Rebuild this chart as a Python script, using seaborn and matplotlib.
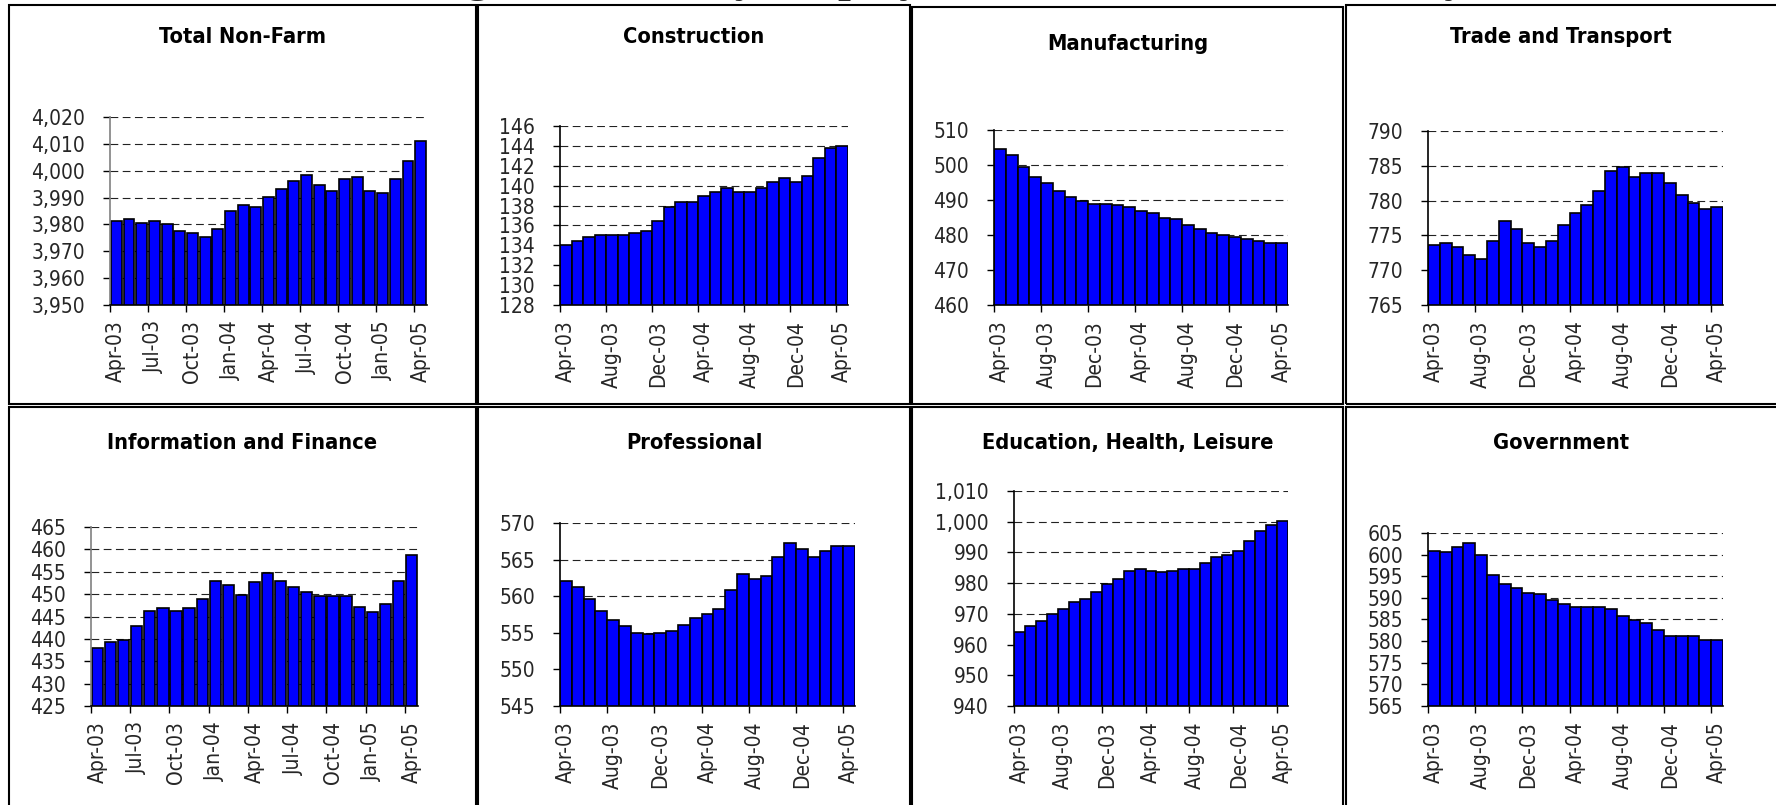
import matplotlib
matplotlib.use('Agg')
import numpy as np
import pandas as pd
import matplotlib.pyplot as plt
import seaborn as sns
from matplotlib.patches import Rectangle
from matplotlib.ticker import FuncFormatter

sns.set_theme(style='white')
plt.rcParams['font.family'] = ['DejaVu Sans']
plt.rcParams['font.stretch'] = 'condensed'

#%% Data (thousands of jobs, seasonally adjusted)

months = ['Apr-03', 'May-03', 'Jun-03', 'Jul-03', 'Aug-03', 'Sep-03', 'Oct-03',
          'Nov-03', 'Dec-03', 'Jan-04', 'Feb-04', 'Mar-04', 'Apr-04', 'May-04',
          'Jun-04', 'Jul-04', 'Aug-04', 'Sep-04', 'Oct-04', 'Nov-04', 'Dec-04',
          'Jan-05', 'Feb-05', 'Mar-05', 'Apr-05']

total_nonfarm = [3981.3, 3982.1, 3980.6, 3981.3, 3980.0, 3977.6, 3976.9, 3975.4,
                 3978.4, 3985.1, 3987.3, 3986.6, 3990.3, 3993.3, 3996.3, 3998.4,
                 3994.8, 3992.5, 3997.0, 3997.8, 3992.5, 3991.8, 3997.0, 4003.7,
                 4011.2]
construction = [134.0, 134.4, 134.8, 135.0, 135.0, 135.0, 135.2, 135.4, 136.4,
                137.9, 138.4, 138.4, 139.0, 139.4, 139.8, 139.4, 139.4, 139.8,
                140.4, 140.8, 140.4, 141.0, 142.8, 143.8, 144.0]
manufacturing = [504.5, 502.8, 499.3, 496.5, 494.8, 492.5, 490.8, 489.6, 489.0,
                 489.0, 488.5, 487.9, 486.8, 486.2, 485.0, 484.5, 482.8, 481.6,
                 480.5, 479.9, 479.3, 478.8, 478.2, 477.7, 477.7]
trade_transport = [773.6, 773.9, 773.3, 772.2, 771.6, 774.2, 777.1, 775.9, 773.9,
                   773.3, 774.2, 776.5, 778.2, 779.4, 781.4, 784.3, 784.8, 783.4,
                   783.9, 783.9, 782.5, 780.8, 779.7, 778.8, 779.1]
info_finance = [437.9, 439.4, 439.8, 442.8, 446.3, 446.8, 446.3, 446.8, 449.0,
                453.0, 452.1, 449.9, 452.6, 454.8, 453.0, 451.7, 450.4, 449.5,
                449.5, 449.5, 447.2, 445.9, 447.7, 453.0, 458.8]
professional = [562.1, 561.3, 559.6, 558.0, 556.7, 555.9, 555.0, 554.8, 555.0,
                555.3, 556.1, 557.0, 557.5, 558.3, 560.8, 563.0, 562.4, 562.7,
                565.4, 567.3, 566.5, 565.4, 566.2, 566.8, 566.8]
edu_health_leisure = [964.1, 965.9, 967.8, 969.8, 971.7, 973.7, 975.0, 977.0,
                      979.7, 981.5, 984.1, 984.7, 984.1, 983.5, 984.1, 984.7,
                      984.7, 986.7, 988.6, 989.3, 990.6, 993.8, 997.1, 999.0,
                      1000.3]
government = [600.9, 600.5, 601.8, 602.8, 600.0, 595.4, 593.1, 592.2, 591.2,
              590.8, 589.4, 588.5, 588.0, 588.0, 588.0, 587.5, 585.7, 584.8,
              584.3, 582.5, 581.1, 581.1, 581.1, 580.2, 580.2]

titles = ['Total Non-Farm', 'Construction', 'Manufacturing', 'Trade and Transport',
          'Information and Finance', 'Professional', 'Education, Health, Leisure',
          'Government']
series = [total_nonfarm, construction, manufacturing, trade_transport,
          info_finance, professional, edu_health_leisure, government]
y_ranges = [(3950, 4020, 10), (128, 146, 2), (460, 510, 10), (765, 790, 5),
            (425, 465, 5), (545, 570, 5), (940, 1010, 10), (565, 605, 5)]
label_every = [3, 4, 4, 4, 3, 4, 4, 4]

#%% Layout (pixels of the 1776x805 picture)

W, H = 1776, 805
# panel boxes: left, top, right, bottom
boxes = [(9, 5, 476, 404), (478, 5, 910, 404), (912, 7, 1343, 404), (1346, 5, 1790, 404),
         (9, 407, 476, 815), (478, 407, 910, 815), (912, 407, 1343, 815), (1346, 407, 1790, 815)]
# plot areas: left, top, right, bottom
areas = [(110, 117, 427, 305), (560, 126, 848, 305), (994, 130, 1288, 305), (1428, 131, 1723, 305),
         (91, 527, 418, 706), (560, 523, 855, 706), (1014, 491, 1288, 706), (1428, 533, 1723, 706)]
title_y = [37, 37, 44, 37, 443, 443, 443, 443]
bar_width = [0.86, 1.0, 1.0, 1.0, 0.86, 1.0, 1.0, 1.0]
left_spine = ['#808080', 'black', 'black', 'black', '#808080', 'black', 'black', 'black']


def px_rect(l, t, r, b):
    return [l / W, 1 - b / H, (r - l) / W, (b - t) / H]


fig = plt.figure(figsize=(W / 100, H / 100), dpi=100)

# title of the page, only its descenders fall inside the picture
fig.text(1467 / W, 1 + 9 / H,
         'Changes in Monthly Employment Estimates by Industry',
         ha='right', va='baseline', fontsize=33, fontweight='bold',
         family='Liberation Serif', zorder=2)
# the Manufacturing chart sits on top of the title
fig.add_artist(Rectangle((912 / W, 1 - 6 / H), 431 / W, 20 / H,
                         transform=fig.transFigure, facecolor='white',
                         edgecolor='none', zorder=4))

for i in range(8):
    l, t, r, b = boxes[i]
    fig.add_artist(Rectangle((l / W, 1 - b / H), (r - l) / W, (b - t) / H,
                             transform=fig.transFigure, fill=False,
                             edgecolor='black', linewidth=1.5, zorder=5))
    cx = (l + r) / 2 if r <= W else (l + W) / 2
    fig.text(cx / W, 1 - title_y[i] / H, titles[i], ha='center', va='center',
             fontsize=15.7, fontweight='bold', color='black')

    ax = fig.add_axes(px_rect(*areas[i]))
    df = pd.DataFrame({'month': months, 'value': series[i]})
    sns.barplot(data=df, x='month', y='value', ax=ax, color='#0000FF',
                saturation=1, edgecolor='black', linewidth=1.2,
                width=bar_width[i], zorder=2)

    lo, hi, step = y_ranges[i]
    ax.set_ylim(lo, hi)
    ax.set_yticks(np.arange(lo, hi + step / 2, step))
    ax.yaxis.set_major_formatter(FuncFormatter(lambda v, p: f'{v:,.0f}'))
    ax.yaxis.grid(True, color='#222222', linewidth=0.8, linestyle=(0, (7, 4)))
    ax.set_axisbelow(True)

    idx = list(range(0, 25, label_every[i]))
    ax.set_xlim(-0.5, 24.5)
    ax.set_xticks(idx)
    ax.set_xticklabels([months[k] for k in idx], rotation=90)
    ax.set_xticks([k - 0.5 for k in idx], minor=True)
    ax.tick_params(axis='x', which='major', length=0, pad=11, labelsize=15)
    ax.tick_params(axis='x', which='minor', bottom=True, length=5, width=1,
                   color='black')
    ax.tick_params(axis='y', left=True, length=5, width=1, pad=13,
                   labelsize=15, color='black')
    ax.set_xlabel('')
    ax.set_ylabel('')

    for s in ['top', 'right']:
        ax.spines[s].set_visible(False)
    ax.spines['left'].set_color(left_spine[i])
    ax.spines['left'].set_linewidth(1.2)
    ax.spines['bottom'].set_color('black')
    ax.spines['bottom'].set_linewidth(1.2)
    ax.set_facecolor('white')

fig.savefig('out.png', dpi=100)
